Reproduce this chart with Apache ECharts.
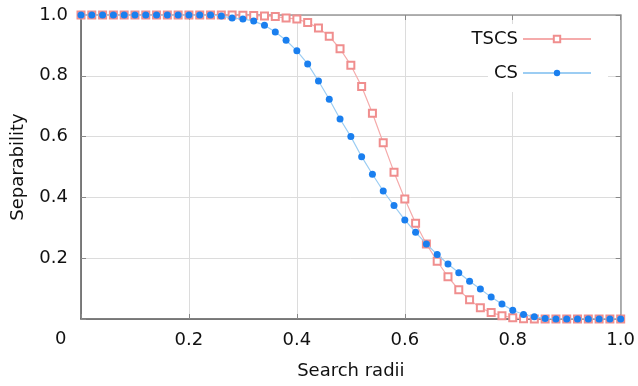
<!DOCTYPE html>
<html>
<head>
<meta charset="utf-8">
<script src="https://cdn.jsdelivr.net/npm/echarts@6/dist/echarts.min.js"></script>
<style>html,body{margin:0;padding:0;background:#fff;}#c{width:638px;height:386px;}</style>
</head>
<body>
<div id="c"></div>
<script>
const radii = [0.00,0.02,0.04,0.06,0.08,0.10,0.12,0.14,0.16,0.18,0.20,0.22,0.24,0.26,0.28,0.30,0.32,0.34,0.36,0.38,0.40,0.42,0.44,0.46,0.48,0.50,0.52,0.54,0.56,0.58,0.60,0.62,0.64,0.66,0.68,0.70,0.72,0.74,0.76,0.78,0.80,0.82,0.84,0.86,0.88,0.90,0.92,0.94,0.96,0.98,1.00];
const tscs = [1,1,1,1,1,1,1,1,1,1,1,1,1,1,1,0.999,0.998,0.997,0.995,0.99,0.987,0.975,0.957,0.93,0.889,0.835,0.765,0.677,0.580,0.483,0.395,0.315,0.247,0.19,0.139,0.096,0.063,0.037,0.021,0.011,0.004,0.001,0,0,0,0,0,0,0,0,0];
const cs = [1,1,1,1,1,1,1,1,1,1,1,1,1,0.997,0.99,0.987,0.98,0.966,0.944,0.917,0.882,0.839,0.783,0.723,0.658,0.600,0.534,0.476,0.421,0.373,0.326,0.285,0.247,0.212,0.181,0.152,0.124,0.099,0.072,0.049,0.029,0.015,0.007,0.002,0,0,0,0,0,0,0];
const xTicks = [0,0.2,0.4,0.6,0.8,1.0];
const yTicks = [0,0.2,0.4,0.6,0.8,1.0];

const FONT = 'DejaVu Sans';
const chart = echarts.init(document.getElementById('c'), null, {renderer:'canvas'});
const pair = (xs, ys) => xs.map((x,i)=>[x, ys[i]]);
const fmt = v => (Math.abs(v) < 1e-9 ? '' : v.toFixed(1));

chart.setOption({
  animation:false,
  backgroundColor:'#fff',
  grid:{left:81, right:15, top:15, bottom:67, containLabel:false},
  xAxis:[{
    type:'value', min:0, max:1, interval:0.2,
    name:'Search radii', nameLocation:'middle', nameGap:43,
    nameTextStyle:{fontFamily:FONT, fontSize:18, color:'#111'},
    axisLine:{show:true, onZero:false, lineStyle:{color:'#555', width:1.5}},
    axisTick:{show:true, inside:true, length:5, lineStyle:{color:'#888'}},
    axisLabel:{fontFamily:FONT, fontSize:18, color:'#111', margin:12, formatter:fmt},
    splitLine:{show:true, lineStyle:{color:'#dcdcdc', width:1}}
  },{
    type:'value', min:0, max:1, interval:0.2, position:'top',
    axisLine:{show:true, onZero:false, lineStyle:{color:'#999', width:1.5}},
    axisTick:{show:true, inside:true, length:5, lineStyle:{color:'#888'}},
    axisLabel:{show:false}, splitLine:{show:false}
  }],
  yAxis:[{
    type:'value', min:0, max:1, interval:0.2,
    name:'Separability', nameLocation:'middle', nameGap:54,
    nameTextStyle:{fontFamily:FONT, fontSize:18, color:'#111'},
    axisLine:{show:true, onZero:false, lineStyle:{color:'#555', width:1.5}},
    axisTick:{show:true, inside:true, length:5, lineStyle:{color:'#888'}},
    axisLabel:{fontFamily:FONT, fontSize:18, color:'#111', margin:13, formatter:fmt},
    splitLine:{show:true, lineStyle:{color:'#dcdcdc', width:1}}
  },{
    type:'value', min:0, max:1, interval:0.2, position:'right',
    axisLine:{show:true, onZero:false, lineStyle:{color:'#999', width:1.5}},
    axisTick:{show:true, inside:true, length:5, lineStyle:{color:'#888'}},
    axisLabel:{show:false}, splitLine:{show:false}
  }],
  legend:[{
    data:['TSCS'], orient:'vertical', align:'right', right:30, top:24,
    padding:[6,16,6,6], backgroundColor:'#fff',
    itemWidth:68, itemHeight:8, itemGap:8,
    textStyle:{fontFamily:FONT, fontSize:18, color:'#111'}
  },{
    data:['CS'], orient:'vertical', align:'right', right:30, top:54,
    padding:[10,16,10,6], backgroundColor:'#fff',
    itemWidth:68, itemHeight:8, itemGap:8,
    textStyle:{fontFamily:FONT, fontSize:18, color:'#111'}
  }],
  graphic:[{
    type:'text', left:55, top:330,
    style:{text:'0', fontFamily:FONT, fontSize:18, fill:'#111'}
  }],
  series:[{
    name:'TSCS', type:'line', data:pair(radii, tscs),
    symbol:'emptyRect', symbolSize:7, showAllSymbol:true,
    itemStyle:{color:'#f08e8e', borderWidth:1},
    lineStyle:{color:'#f5abab', width:1.2},
    z:2
  },{
    name:'CS', type:'line', data:pair(radii, cs),
    symbol:'circle', symbolSize:7, showAllSymbol:true,
    itemStyle:{color:'#1a7fef'},
    lineStyle:{color:'#9ccdf3', width:1.2},
    z:3
  }]
});
</script>
</body>
</html>
